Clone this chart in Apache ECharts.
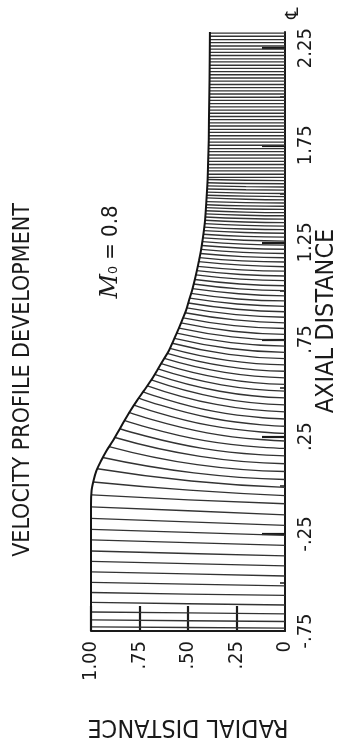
<!DOCTYPE html>
<html>
<head>
<meta charset="utf-8">
<script src="https://cdn.jsdelivr.net/npm/echarts@6/dist/echarts.min.js"></script>
<style>
  html, body { margin: 0; padding: 0; background: #ffffff; }
  #chart { width: 361px; height: 746px; }
</style>
</head>
<body>
<div id="chart"></div>
<script>
// ---- data (radial distance r, axial distance a) ----
// wall contour
var wallR = [1.000, 1.000, 0.997, 0.987, 0.972, 0.948, 0.920, 0.887, 0.857, 0.828, 0.797, 0.763, 0.727, 0.691, 0.660, 0.629, 0.598, 0.575, 0.552, 0.531, 0.510, 0.495, 0.479, 0.466, 0.454, 0.443, 0.433, 0.425, 0.418, 0.412, 0.405, 0.399, 0.396, 0.393, 0.392, 0.389, 0.387];
var wallA = [-0.75, -0.10, -0.028, 0.023, 0.075, 0.126, 0.178, 0.229, 0.281, 0.332, 0.384, 0.436, 0.487, 0.539, 0.590, 0.642, 0.694, 0.745, 0.797, 0.848, 0.900, 0.951, 1.003, 1.054, 1.106, 1.158, 1.209, 1.261, 1.312, 1.364, 1.467, 1.570, 1.673, 1.776, 1.879, 2.085, 2.333];

// profile lines: wall end (r, a), axial position at half wall radius, axial position on centerline
var meshWallR = [1, 1, 1, 1, 1, 1, 1, 1, 1, 1, 1, 1, 1, 0.995,
  0.988, 0.967, 0.939, 0.907, 0.876, 0.851, 0.829, 0.805, 0.778, 0.754,
  0.731, 0.709, 0.689, 0.672, 0.655, 0.638, 0.622, 0.607, 0.593, 0.581,
  0.570, 0.558, 0.546, 0.536, 0.525, 0.515, 0.506, 0.498, 0.491, 0.484,
  0.477, 0.471, 0.465, 0.459, 0.454, 0.449, 0.445, 0.440, 0.436, 0.432,
  0.429, 0.426, 0.423, 0.421, 0.418, 0.416, 0.414, 0.412, 0.411, 0.410,
  0.409, 0.408, 0.406, 0.405, 0.404, 0.403, 0.403, 0.402, 0.401, 0.400, 0.399];
var meshWallA = [-0.729, -0.693, -0.652, -0.603, -0.552, -0.500, -0.446, -0.392, -0.338, -0.281, -0.227, -0.170, -0.111, -0.049,
  0.017, 0.085, 0.143, 0.199, 0.246, 0.291, 0.334, 0.375, 0.413, 0.449,
  0.481, 0.512, 0.542, 0.571, 0.599, 0.626, 0.653, 0.679, 0.705, 0.731,
  0.756, 0.783, 0.809, 0.836, 0.862, 0.888, 0.913, 0.938, 0.963, 0.988,
  1.012, 1.036, 1.059, 1.083, 1.105, 1.127, 1.151, 1.172, 1.193, 1.214,
  1.234, 1.254, 1.273, 1.292, 1.311, 1.329, 1.347, 1.364, 1.381, 1.397,
  1.413, 1.429, 1.444, 1.460, 1.479, 1.493, 1.509, 1.525, 1.541, 1.557, 1.574];
var meshMidA = [-0.732, -0.697, -0.657, -0.610, -0.560, -0.509, -0.456, -0.403, -0.351, -0.295, -0.242, -0.188, -0.131, -0.075,
  -0.025, 0.022, 0.064, 0.106, 0.149, 0.190, 0.230, 0.270, 0.308, 0.345,
  0.380, 0.416, 0.450, 0.484, 0.517, 0.549, 0.581, 0.612, 0.643, 0.674,
  0.704, 0.734, 0.764, 0.793, 0.822, 0.851, 0.878, 0.906, 0.933, 0.959,
  0.986, 1.011, 1.036, 1.061, 1.085, 1.109, 1.133, 1.155, 1.177, 1.199,
  1.220, 1.241, 1.261, 1.281, 1.301, 1.319, 1.338, 1.355, 1.373, 1.390,
  1.406, 1.422, 1.438, 1.455, 1.472, 1.488, 1.504, 1.521, 1.537, 1.553, 1.570];
var meshAxisA = [-0.735, -0.701, -0.662, -0.616, -0.567, -0.518, -0.467, -0.415, -0.363, -0.309, -0.258, -0.206, -0.152, -0.095,
  -0.053, -0.011, 0.030, 0.071, 0.111, 0.151, 0.190, 0.228, 0.267, 0.304,
  0.341, 0.378, 0.414, 0.450, 0.485, 0.519, 0.553, 0.587, 0.620, 0.652,
  0.684, 0.716, 0.746, 0.777, 0.807, 0.836, 0.865, 0.893, 0.921, 0.949,
  0.975, 1.002, 1.027, 1.053, 1.077, 1.102, 1.125, 1.149, 1.171, 1.193,
  1.215, 1.236, 1.257, 1.277, 1.297, 1.316, 1.334, 1.352, 1.370, 1.387,
  1.403, 1.420, 1.436, 1.453, 1.469, 1.486, 1.502, 1.519, 1.535, 1.552, 1.568];

// straight section lines (constant axial position)
var throatR = [0.399, 0.398, 0.398, 0.397, 0.397, 0.396, 0.396, 0.395, 0.395, 0.394,
  0.394, 0.393, 0.393, 0.393, 0.392, 0.392, 0.392, 0.392, 0.392, 0.391,
  0.391, 0.391, 0.391, 0.390, 0.390, 0.390, 0.390, 0.389, 0.389, 0.389,
  0.389, 0.389, 0.389, 0.388, 0.388, 0.388, 0.388, 0.388, 0.388, 0.388,
  0.387, 0.387, 0.387, 0.387, 0.387, 0.387];
var throatA = [1.585, 1.601, 1.618, 1.634, 1.651, 1.667, 1.684, 1.700, 1.717, 1.733,
  1.750, 1.766, 1.783, 1.799, 1.816, 1.832, 1.849, 1.865, 1.882, 1.898,
  1.915, 1.931, 1.948, 1.964, 1.981, 1.997, 2.014, 2.030, 2.047, 2.063,
  2.080, 2.096, 2.113, 2.129, 2.146, 2.162, 2.179, 2.195, 2.212, 2.228,
  2.245, 2.261, 2.278, 2.294, 2.311, 2.327];

// ticks
var radialLabels = [0, 0.25, 0.5, 0.75, 1];
var radialTicks = [0.25, 0.5, 0.75, 1];
var axialLabels = [-0.75, -0.25, 0.25, 0.75, 1.25, 1.75, 2.25];
var axialTicks = [-0.25, 0.25, 0.75, 1.25, 1.75, 2.25];
var axialMinorTicks = [-0.5, 0, 0.5, 1.0, 1.5, 2.0];

var TITLE = 'VELOCITY PROFILE DEVELOPMENT';
var XNAME = 'RADIAL DISTANCE';
var YNAME = 'AXIAL DISTANCE';

// ---- build ----
var FONT = 'DejaVu Sans Condensed';
var INK = '#1a1a1a';
var series = [];
var lineStyle = { color: '#333333', width: 1.35 };

for (var i = 0; i < meshWallR.length; i++) {
  series.push({
    type: 'line', silent: true, symbol: 'none', smooth: 0.5,
    lineStyle: lineStyle, z: 2,
    data: [[meshWallR[i], meshWallA[i]], [meshWallR[i] / 2, meshMidA[i]], [0, meshAxisA[i]]]
  });
}
for (var j = 0; j < throatA.length; j++) {
  series.push({
    type: 'line', silent: true, symbol: 'none',
    lineStyle: lineStyle, z: 2,
    data: [[throatR[j], throatA[j]], [0, throatA[j]]]
  });
}
var wall = [];
for (var k = 0; k < wallR.length; k++) wall.push([wallR[k], wallA[k]]);
series.push({
  type: 'line', silent: true, symbol: 'none', smooth: 0.3,
  lineStyle: { color: '#141414', width: 2 }, z: 5, data: wall
});

function fmtR(v) {
  if (v === 1) return '1.00';
  if (v === 0) return '0';
  return '.' + String(Math.round(v * 100));
}
function fmtA(v) {
  return v.toFixed(2).replace(/^0\./, '.').replace(/^-0\./, '-.');
}

var chart = echarts.init(document.getElementById('chart'), null, { renderer: 'canvas' });
chart.setOption({
  animation: false,
  backgroundColor: '#ffffff',
  grid: { left: 91, right: 76, top: 32, bottom: 115, containLabel: false, outerBoundsMode: 'none' },
  xAxis: {
    type: 'value', inverse: true, min: 0, max: 1, position: 'bottom',
    axisLine: { show: true, onZero: false, lineStyle: { color: INK, width: 2.2 } },
    axisTick: { show: true, inside: true, length: 25, customValues: radialTicks, lineStyle: { color: INK, width: 2.2 } },
    axisLabel: {
      customValues: radialLabels, rotate: 90, margin: 10, formatter: fmtR,
      fontFamily: FONT, fontSize: 20, color: INK, align: 'right', verticalAlign: 'middle'
    },
    splitLine: { show: false }
  },
  yAxis: [{
    type: 'value', min: -0.75, max: 2.333, position: 'right',
    axisLine: { show: true, onZero: false, lineStyle: { color: INK, width: 2 } },
    axisTick: { show: true, inside: true, length: 23, customValues: axialTicks, lineStyle: { color: INK, width: 2.2 } },
    axisLabel: {
      customValues: axialLabels, rotate: 90, margin: 11, formatter: fmtA,
      fontFamily: FONT, fontSize: 20, color: INK, align: 'center', verticalAlign: 'top'
    },
    splitLine: { show: false }
  }, {
    type: 'value', min: -0.75, max: 2.333, position: 'right',
    axisLine: { show: false, onZero: false },
    axisTick: { show: true, inside: true, length: 5, customValues: axialMinorTicks, lineStyle: { color: INK, width: 1.5 } },
    axisLabel: { show: false },
    splitLine: { show: false }
  }],
  series: series,
  graphic: [
    { type: 'text', x: 23, y: 380, rotation: Math.PI / 2, silent: true,
      style: { text: TITLE, fontFamily: FONT, fontSize: 23, fill: INK, align: 'center', verticalAlign: 'middle' } },
    { type: 'text', x: 326, y: 321, rotation: Math.PI / 2, silent: true,
      style: { text: YNAME, fontFamily: FONT, fontSize: 25, fill: INK, align: 'center', verticalAlign: 'middle' } },
    { type: 'text', x: 188, y: 726, rotation: Math.PI, silent: true,
      style: { text: XNAME, fontFamily: FONT, fontSize: 25, fill: INK, align: 'center', verticalAlign: 'middle' } },
    { type: 'text', x: 111, y: 252, rotation: Math.PI / 2, silent: true,
      style: { text: '{m|M}{n|\u2080 = 0.8}', fill: INK, align: 'center', verticalAlign: 'middle',
        rich: { m: { fontFamily: 'DejaVu Serif', fontStyle: 'italic', fontSize: 24, fill: INK },
                n: { fontFamily: FONT, fontSize: 22, fill: INK } } } },
    { type: 'text', x: 293, y: 13, rotation: Math.PI / 2, silent: true,
      style: { text: '\u2104', fontFamily: 'DejaVu Sans', fontSize: 18, fill: INK, align: 'center', verticalAlign: 'middle' } }
  ]
});
</script>
</body>
</html>
